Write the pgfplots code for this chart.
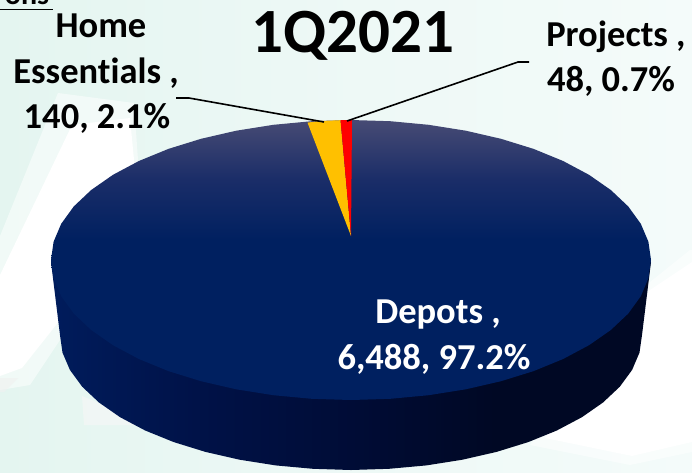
\documentclass[border=0pt]{standalone}
\usepackage{fontspec}
\setmainfont[Ligatures=NoCommon]{Carlito}
\usepackage{pgfplots}
\pgfplotsset{compat=1.18}
\definecolor{bgL}{HTML}{E4F5F0}
\definecolor{bgR}{HTML}{F4FBFA}
\definecolor{topA}{HTML}{474B74}
\definecolor{topB}{HTML}{1A2D68}
\definecolor{topC}{HTML}{002060}
\definecolor{sideA}{HTML}{001C5C}
\definecolor{sideB}{HTML}{001248}
\definecolor{sideC}{HTML}{000C36}
\definecolor{sideD}{HTML}{000824}
\pgfdeclareverticalshading{topface}{100bp}{color(0bp)=(topC); color(53.6bp)=(topC); color(64.3bp)=(topB); color(75bp)=(topA); color(100bp)=(topA)}
\pgfdeclarehorizontalshading{sideface}{100bp}{color(0bp)=(sideA); color(25bp)=(sideA); color(37bp)=(sideB); color(50bp)=(sideC); color(62bp)=(sideD); color(100bp)=(sideD)}
\pgfdeclarehorizontalshading{bgface}{100bp}{color(0bp)=(bgL); color(25bp)=(bgL); color(50bp)=(bgL!40!bgR); color(75bp)=(bgR); color(100bp)=(bgR)}
\newcommand{\lab}[5][black]{\node[anchor=base,inner sep=0pt,text=#1,font=\fontsize{#2}{#2}\selectfont\bfseries] at (axis cs:#3) {#4#5};}
\begin{document}
\begin{tikzpicture}
\path[use as bounding box,clip] (0,0) rectangle (692pt,472pt);
\begin{axis}[at={(0,0)},anchor=south west,scale only axis,width=692pt,height=472pt,
  xmin=0,xmax=692,ymin=0,ymax=472,y dir=reverse,hide axis,clip=false]
% background
\addplot[draw=none,shading=bgface] coordinates {(0,0)(692,0)(692,472)(0,472)(0,0)};
\addplot[draw=none,fill=white,opacity=.5] coordinates {(58,93)(134,103)(138,160)(60,340)(30,385)(0,390)(0,236)(58,93)};
\addplot[draw=none,fill=white] coordinates {(72,125)(130,118)(135,170)(60,320)(22,368)(0,376)(0,275)(72,125)};
\addplot[draw=none,fill=black!6,opacity=.6] coordinates {(0,378)(18,378)(4,392)(0,392)(0,378)};
\addplot[draw=none,fill=black!3,opacity=.6] coordinates {(82,396)(140,420)(140,425)(84,425)(82,396)};
\addplot[draw=none,fill=white,opacity=.5] coordinates {(690,250)(692,250)(692,452)(630,465)(530,445)(640,290)(690,250)};
\addplot[draw=none,fill=white] coordinates {(692,262)(692,442)(632,456)(545,438)(650,290)(692,262)};
% pie side
\addplot[draw=none,shading=sideface] coordinates {(60,335)(62.5,352.6)(69.9,369.9)(82.2,386.7)(99,402.5)(120.1,417.2)(145.2,430.5)(173.8,442.1)(205.5,451.9)(239.6,459.7)(275.7,465.4)(313,468.8)(351,470)(389,468.8)(426.3,465.4)(462.4,459.7)(496.5,451.9)(528.2,442.1)(556.8,430.5)(581.9,417.2)(603,402.5)(619.8,386.7)(632.1,369.9)(639.5,352.6)(642,335)(651,262)(351,200)(51,262)(60,335)};
% pie top
\addplot[draw=none,shading=topface] coordinates {(651,260)(648.4,241.7)(640.8,223.8)(628.2,206.4)(610.8,190)(589,174.8)(563.1,161)(533.6,148.9)(501,138.8)(465.8,130.7)(428.6,124.8)(390.2,121.2)(351,120)(311.8,121.2)(273.4,124.8)(236.2,130.7)(201,138.8)(168.4,148.9)(138.9,161)(113,174.8)(91.2,190)(73.8,206.4)(61.2,223.8)(53.6,241.7)(51,260)(53.6,278.3)(61.2,296.2)(73.8,313.6)(91.2,330)(113,345.2)(138.9,359)(168.4,371.1)(201,381.2)(236.2,389.3)(273.4,395.2)(311.8,398.8)(351,400)(390.2,398.8)(428.6,395.2)(465.8,389.3)(501,381.2)(533.6,371.1)(563.1,359)(589,345.2)(610.8,330)(628.2,313.6)(640.8,296.2)(648.4,278.3)(651,260)};
% slices
\addplot[draw=none,fill={rgb,255:red,255;green,192;blue,0}] coordinates {(351,236)(307.5,122.6)(320,121)(340.5,120.2)(351,236)};
\addplot[draw=none,fill=red] coordinates {(351,236)(340.5,120.2)(352,120)(351,236)};
% leader lines
\addplot[black,line width=1.6pt] coordinates {(176,98)(189,98)(324,122)};
\addplot[black,line width=1.6pt] coordinates {(529,62)(518,62)(347,121)};
% underline of the cropped heading
\addplot[black,line width=1.8pt] coordinates {(0,9.5)(53,9.5)};
\lab{30}{27,4}{ons}{}
\lab{63}{353,52}{1Q2021}{}
\lab{36.5}{101,37}{Home}{}
\lab{36.5}{96,83}{Essentials ,}{}
\lab{36.5}{97,128}{140, 2.1\%}{}
\lab{36.5}{616,46}{Projects ,}{}
\lab{36.5}{611,91}{48, 0.7\%}{}
\lab[white]{36.5}{438,323}{Depots ,}{}
\lab[white]{36.5}{434,369}{6,488, 97.2\%}{}
\end{axis}
\end{tikzpicture}
\end{document}
